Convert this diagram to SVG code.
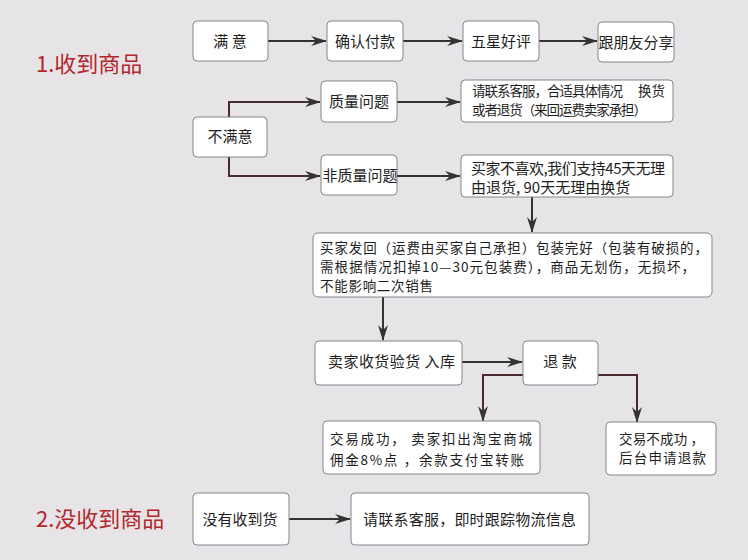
<svg xmlns="http://www.w3.org/2000/svg" width="748" height="560" viewBox="0 0 748 560">
<style>
.bg{fill:#e7e4e7}
.box{fill:#ffffff;stroke:#86848a;stroke-width:1}
.t{font-family:"Noto Sans CJK SC","Noto Sans",sans-serif;font-size:15px;fill:#1e1e1e}
.s{font-size:13.5px}
.c{text-anchor:middle}
.lbl{font-family:"Noto Sans CJK SC","Noto Sans",sans-serif;font-size:22px;fill:#b3262b}
.ln{fill:none;stroke:#333333;stroke-width:2}
.lr{fill:none;stroke:#4a2b30;stroke-width:2}
</style>
<defs>
<marker id="ah" viewBox="0 0 16 10" markerWidth="16" markerHeight="10" refX="15" refY="5" orient="auto" markerUnits="userSpaceOnUse">
<path d="M0,0 L16,5 L0,10 L5,5 z" fill="#333333"/>
</marker>
</defs>
<rect class="bg" x="0" y="0" width="748" height="560"/>

<text class="lbl" x="36" y="72">1.收到商品</text>
<text class="lbl" x="36" y="527">2.没收到商品</text>

<g id="connectors">
<path class="ln" d="M268,41 H326" marker-end="url(#ah)"/>
<path class="ln" d="M403,41 H462" marker-end="url(#ah)"/>
<path class="ln" d="M539,41 H597" marker-end="url(#ah)"/>
<path class="lr" d="M229,117 V102 H320" marker-end="url(#ah)"/>
<path class="lr" d="M229,157 V176 H320" marker-end="url(#ah)"/>
<path class="ln" d="M397,102 H460" marker-end="url(#ah)"/>
<path class="ln" d="M397,176 H460" marker-end="url(#ah)"/>
<path class="ln" d="M532,197 V232" marker-end="url(#ah)"/>
<path class="ln" d="M383,297 V340" marker-end="url(#ah)"/>
<path class="ln" d="M462,362 H522" marker-end="url(#ah)"/>
<path class="lr" d="M523,375 H483 V421" marker-end="url(#ah)"/>
<path class="lr" d="M598,375 H637 V422" marker-end="url(#ah)"/>
<path class="ln" d="M289,519 H350" marker-end="url(#ah)"/>
</g>

<g id="n-satisfied">
<rect class="box" x="193" y="21" width="75" height="40" rx="4"/>
<text class="t c" x="230" y="47">满 意</text>
</g>
<g id="n-confirm">
<rect class="box" x="327" y="21" width="76" height="40" rx="4"/>
<text class="t c" x="365" y="47">确认付款</text>
</g>
<g id="n-fivestar">
<rect class="box" x="463" y="21" width="76" height="40" rx="4"/>
<text class="t c" x="501" y="47">五星好评</text>
</g>
<g id="n-share">
<rect class="box" x="598" y="22" width="76" height="40" rx="4"/>
<text class="t c" x="636" y="48">跟朋友分享</text>
</g>
<g id="n-unsatisfied">
<rect class="box" x="193" y="117" width="74" height="40" rx="4"/>
<text class="t c" x="230" y="142">不满意</text>
</g>
<g id="n-quality">
<rect class="box" x="321" y="81" width="76" height="41" rx="4"/>
<text class="t c" x="359" y="107">质量问题</text>
</g>
<g id="n-nonquality">
<rect class="box" x="321" y="155" width="76" height="40" rx="4"/>
<text class="t c" x="360" y="181">非质量问题</text>
</g>
<g id="n-contact1">
<rect class="box" x="461" y="80" width="212" height="42" rx="4"/>
<text class="t s" x="472" y="96" textLength="151" lengthAdjust="spacing">请联系客服，合适具体情况</text>
<text class="t s" x="638" y="96">换货</text>
<text class="t s" x="472" y="115" textLength="175" lengthAdjust="spacing">或者退货（来回运费卖家承担）</text>
</g>
<g id="n-dislike">
<rect class="box" x="461" y="155" width="212" height="42" rx="4"/>
<text class="t" x="471" y="174" textLength="194" lengthAdjust="spacing">买家不喜欢,我们支持45天无理</text>
<text class="t" x="471" y="193">由退货, 90天无理由换货</text>
</g>
<g id="n-return">
<rect class="box" x="313" y="233" width="399" height="64" rx="5"/>
<text class="t s" x="320" y="253" textLength="388" lengthAdjust="spacing">买家发回（运费由买家自己承担）包装完好（包装有破损的，</text>
<text class="t s" x="320" y="272" textLength="375" lengthAdjust="spacing">需根据情况扣掉10—30元包装费），商品无划伤，无损坏，</text>
<text class="t s" x="320" y="291" textLength="113" lengthAdjust="spacing">不能影响二次销售</text>
</g>
<g id="n-receive">
<rect class="box" x="315" y="341" width="147" height="44" rx="4"/>
<text class="t" x="328" y="367" textLength="127" lengthAdjust="spacing">卖家收货验货 入库</text>
</g>
<g id="n-refund">
<rect class="box" x="523" y="341" width="75" height="44" rx="4"/>
<text class="t c" x="560" y="367">退 款</text>
</g>
<g id="n-success">
<rect class="box" x="323" y="421" width="217" height="53" rx="4"/>
<text class="t s" x="330" y="444" textLength="202" lengthAdjust="spacing">交易成功， 卖家扣出淘宝商城</text>
<text class="t s" x="330" y="465" textLength="194" lengthAdjust="spacing">佣金8%点 ，余款支付宝转账</text>
</g>
<g id="n-fail">
<rect class="box" x="606" y="422" width="110" height="53" rx="4"/>
<text class="t s" x="619" y="444" textLength="85" lengthAdjust="spacing">交易不成功 ，</text>
<text class="t s" x="619" y="463" textLength="87" lengthAdjust="spacing">后台申请退款</text>
</g>
<g id="n-notreceived">
<rect class="box" x="193" y="493" width="96" height="52" rx="4"/>
<text class="t c" x="240" y="525">没有收到货</text>
</g>
<g id="n-contact2">
<rect class="box" x="351" y="493" width="238" height="52" rx="4"/>
<text class="t" x="363" y="525" textLength="213" lengthAdjust="spacing">请联系客服，即时跟踪物流信息</text>
</g>
</svg>
